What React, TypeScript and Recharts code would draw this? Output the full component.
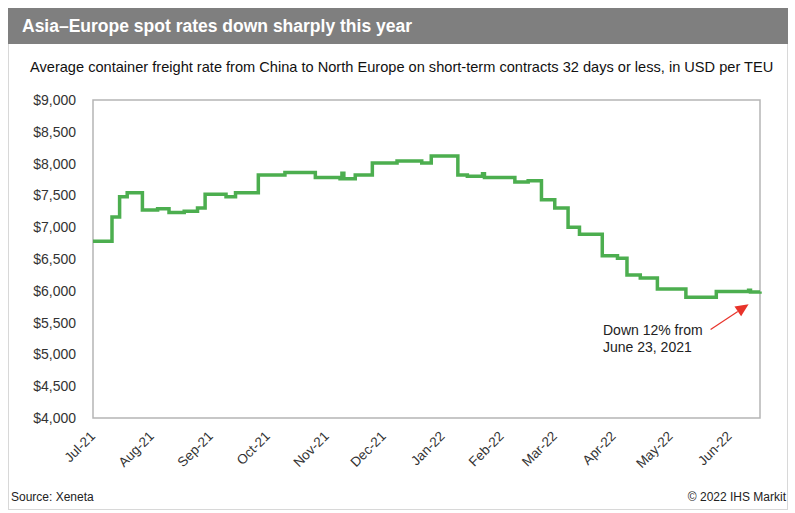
import { LineChart, Line, XAxis, YAxis, ReferenceArea, ReferenceLine } from "recharts";

// days since 1 Jul 2021 where the weekly rate changes, and the rate from that day
const stepDays = [0, 10, 14, 18, 26, 34, 40, 48, 55, 59, 70, 75, 87, 101, 117, 130, 131, 132, 138, 147, 160, 173, 178, 192, 197, 205, 206, 222, 229, 236, 243, 250, 256, 268, 276, 281, 288, 297, 312, 328, 345, 346, 351];
const stepRates = [6780, 7160, 7480, 7540, 7270, 7290, 7230, 7250, 7300, 7520, 7480, 7540, 7820, 7860, 7780, 7760, 7850, 7760, 7820, 8010, 8040, 8010, 8120, 7820, 7800, 7840, 7780, 7710, 7730, 7430, 7300, 7000, 6890, 6550, 6510, 6250, 6200, 6030, 5900, 5990, 6010, 5980, 5990];

const monthTicks = [0, 31, 62, 92, 123, 153, 184, 215, 243, 274, 304, 335];
const monthLabels = ["Jul-21", "Aug-21", "Sep-21", "Oct-21", "Nov-21", "Dec-21", "Jan-22", "Feb-22", "Mar-22", "Apr-22", "May-22", "Jun-22"];
const rateTicks = [4000, 4500, 5000, 5500, 6000, 6500, 7000, 7500, 8000, 8500, 9000];

// arrow of the annotation, in data units
const arrowFrom = { x: 325, y: 5390 };
const arrowTo = { x: 345, y: 5790 };

const font = "'Liberation Sans', Arial, sans-serif";

const data = stepDays.map((d, i) => ({ day: d, rate: stepRates[i] }));

function MonthTick({ x, y, payload }: any) {
  const label = monthLabels[monthTicks.indexOf(payload.value)];
  const ax = x + 3;
  const ay = y + 11;
  return (
    <text x={ax} y={ay} transform={`rotate(-45, ${ax}, ${ay})`} textAnchor="end" fontSize={13.5} fill="#333" fontFamily={font}>
      {label}
    </text>
  );
}

function Arrow(props: any) {
  const { x1, y1, x2, y2 } = props;
  if (x1 == null) return null;
  const ang = Math.atan2(y2 - y1, x2 - x1);
  const len = 13;
  const w = 6;
  const bx = x2 - len * Math.cos(ang);
  const by = y2 - len * Math.sin(ang);
  const px = -Math.sin(ang) * w;
  const py = Math.cos(ang) * w;
  return (
    <g>
      <line x1={x1} y1={y1} x2={bx} y2={by} stroke="#e8332a" strokeWidth={1.2} />
      <polygon points={`${x2},${y2} ${bx + px},${by + py} ${bx - px},${by - py}`} fill="#e8332a" />
    </g>
  );
}

export default function App() {
  return (
    <div style={{ position: "absolute", left: 0, top: 0, width: 795, height: 513, background: "#fff", fontFamily: font }}>
      <div style={{ position: "absolute", left: 8, top: 8, width: 780, height: 502, border: "1px solid #d8d8d8", boxSizing: "border-box" }} />
      <div style={{ position: "absolute", left: 8, top: 8, width: 780, height: 36, background: "#7f7f7f", color: "#fff", fontWeight: "bold", fontSize: 17.5, lineHeight: "36px", paddingLeft: 14, boxSizing: "border-box" }}>
        Asia–Europe spot rates down sharply this year
      </div>
      <div style={{ position: "absolute", left: 30, top: 59, fontSize: 14.6, color: "#111", whiteSpace: "nowrap" }}>
        Average container freight rate from China to North Europe on short-term contracts 32 days or less, in USD per TEU
      </div>
      <div style={{ position: "absolute", left: 0, top: 0 }}>
        <LineChart width={795} height={513} data={data} margin={{ top: 100, right: 35, bottom: 35, left: 33 }}>
          <XAxis
            dataKey="day"
            type="number"
            domain={[0, 351]}
            ticks={monthTicks}
            interval={0}
            tick={<MonthTick />}
            tickLine={false}
            axisLine={false}
            height={60}
          />
          <YAxis
            type="number"
            domain={[4000, 9000]}
            ticks={rateTicks}
            interval={0}
            width={60}
            tickLine={false}
            axisLine={false}
            tickMargin={11}
            tick={{ fontSize: 14, fill: "#333", fontFamily: font }}
            tickFormatter={(v: number) => "$" + v.toLocaleString("en-US")}
          />
          <ReferenceArea x1={0} x2={351} y1={4000} y2={9000} fill="none" stroke="#b5b5b5" strokeWidth={1.5} />
          <Line type="stepAfter" dataKey="rate" stroke="#4cae4f" strokeWidth={3.5} dot={false} isAnimationActive={false} />
          <ReferenceLine segment={[arrowFrom, arrowTo]} shape={<Arrow />} />
        </LineChart>
      </div>
      <div style={{ position: "absolute", left: 603, top: 322, fontSize: 14, color: "#222", lineHeight: "17px" }}>
        Down 12% from
        <br />
        June 23, 2021
      </div>
      <div style={{ position: "absolute", left: 11, top: 490, fontSize: 12, color: "#222" }}>Source: Xeneta</div>
      <div style={{ position: "absolute", right: 9, top: 490, fontSize: 12, color: "#222" }}>© 2022 IHS Markit</div>
    </div>
  );
}
